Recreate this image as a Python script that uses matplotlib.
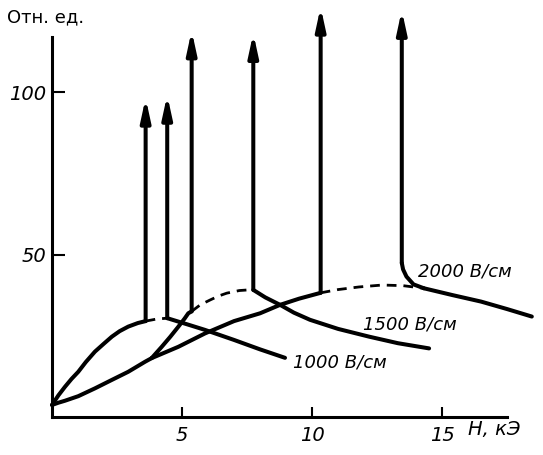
import matplotlib
matplotlib.use('Agg')
import matplotlib.pyplot as plt

# curve readings (H in kOe, intensity in rel. units)
rise_1000_x = [0, 0.25, 0.5, 0.75, 1.01, 1.3, 1.65, 2.0, 2.3, 2.6, 2.93, 3.3, 3.6]
rise_1000_y = [3.8, 6.8, 9.4, 11.8, 14.0, 17.0, 20.2, 22.7, 24.8, 26.5, 27.9, 29.0, 29.6]
gap_1000_x = [3.6, 4.0, 4.43]
gap_1000_y = [29.6, 30.2, 30.5]
fall_1000_x = [4.43, 5.2, 5.88, 7.0, 8.0, 8.96]
fall_1000_y = [30.5, 28.6, 26.9, 23.8, 20.9, 18.3]

# 1500 and 2000 share the low branch up to ~3.8 kOe
common_x = [0, 0.25, 0.5, 1.01, 1.65, 2.3, 2.93, 3.58, 3.83]
common_y = [3.8, 4.5, 5.1, 6.5, 8.9, 11.5, 14.0, 17.1, 18.2]

rise_1500_x = [3.83, 4.22, 4.55, 4.86, 5.1, 5.24, 5.37]
rise_1500_y = [18.2, 21.7, 24.8, 27.9, 30.4, 32.0, 32.6]
gap_1500_x = [5.37, 5.7, 6.08, 6.4, 6.72, 7.2, 7.55, 7.74]
gap_1500_y = [32.6, 34.6, 36.1, 37.3, 38.2, 39.0, 39.2, 39.2]
fall_1500_x = [7.74, 8.2, 8.77, 9.3, 9.92, 11.0, 12.2, 13.3, 14.5]
fall_1500_y = [39.2, 36.9, 34.6, 32.2, 30.0, 27.2, 24.8, 22.8, 21.2]

rise_2000_x = [3.83, 4.86, 5.88, 7.0, 8.0, 8.77, 9.5, 10.33]
rise_2000_y = [18.2, 21.7, 25.8, 29.6, 32.0, 34.6, 36.5, 38.3]
gap_2000_x = [10.33, 11.0, 11.8, 12.7, 13.5, 14.3]
gap_2000_y = [38.3, 39.3, 40.1, 40.7, 40.5, 39.7]
bend_2000_x = [13.45, 13.5, 13.63, 13.9, 14.3]
bend_2000_y = [47.5, 45.5, 43.3, 40.9, 39.7]
fall_2000_x = [14.3, 15.4, 16.5, 17.5, 18.45]
fall_2000_y = [39.7, 37.6, 35.6, 33.3, 31.0]

# vertical jumps (arrows)
arrow_x = [3.6, 4.43, 5.37, 7.74, 10.33, 13.45]
arrow_base = [29.6, 30.5, 32.6, 39.2, 38.3, 47.5]
arrow_tip = [98.3, 99.2, 119.0, 118.2, 126.3, 125.3]

curve_labels = ['1000 В/см', '1500 В/см', '2000 В/см']
label_x = [9.27, 11.96, 14.08]
label_y = [16.9, 28.7, 45.0]

x_ticks = [5, 10, 15]
y_ticks = [50, 100]

LW = 2.9
fig = plt.figure(figsize=(5.43, 4.55), dpi=100)
ax = fig.add_axes([0, 0, 1, 1])
ax.set_xlim(-2.0, 18.88)
ax.set_ylim(-11.6, 128.4)

solid = dict(color='black', lw=LW, solid_capstyle='round', solid_joinstyle='round')
dashed = dict(color='black', lw=2.0, ls=(0, (3.5, 2.5)))

ax.plot(rise_1000_x, rise_1000_y, **solid)
ax.plot(gap_1000_x, gap_1000_y, **dashed)
ax.plot(fall_1000_x, fall_1000_y, **solid)

ax.plot(common_x, common_y, **solid)
ax.plot(rise_1500_x, rise_1500_y, **solid)
ax.plot(gap_1500_x, gap_1500_y, **dashed)
ax.plot(fall_1500_x, fall_1500_y, **solid)

ax.plot(rise_2000_x, rise_2000_y, **solid)
ax.plot(gap_2000_x, gap_2000_y, **dashed)
ax.plot(bend_2000_x, bend_2000_y, **solid)
ax.plot(fall_2000_x, fall_2000_y, **solid)

for x, b, t in zip(arrow_x, arrow_base, arrow_tip):
    ax.annotate('', xy=(x, t), xytext=(x, b),
                arrowprops=dict(arrowstyle='-|>,head_length=1.2,head_width=0.26',
                                color='black', lw=LW, shrinkA=0, shrinkB=0,
                                mutation_scale=11))

for txt, x, y in zip(curve_labels, label_x, label_y):
    ax.text(x, y, txt, fontsize=13, style='italic', va='center', ha='left')

# axes
for s in ['top', 'right']:
    ax.spines[s].set_visible(False)
ax.spines['left'].set_position(('data', 0))
ax.spines['bottom'].set_position(('data', 0))
ax.spines['left'].set_bounds(0, 117)
ax.spines['bottom'].set_bounds(0, 17.5)
ax.spines['left'].set_linewidth(2.2)
ax.spines['bottom'].set_linewidth(2.2)
ax.set_xticks(x_ticks)
ax.set_yticks(y_ticks)
ax.set_xticklabels([str(v) for v in x_ticks], fontsize=14, style='italic')
ax.set_yticklabels([str(v) for v in y_ticks], fontsize=14, style='italic')
ax.tick_params(axis='x', direction='in', length=7, width=1.5, pad=6)
ax.tick_params(axis='y', direction='in', length=9, width=1.5, pad=4)

ax.text(-1.73, 123.2, 'Отн. ед.', fontsize=13, va='center', ha='left')
ax.text(16.0, -3.9, 'H, кЭ', fontsize=14, style='italic', va='center', ha='left')

fig.savefig('out.png', dpi=100)
